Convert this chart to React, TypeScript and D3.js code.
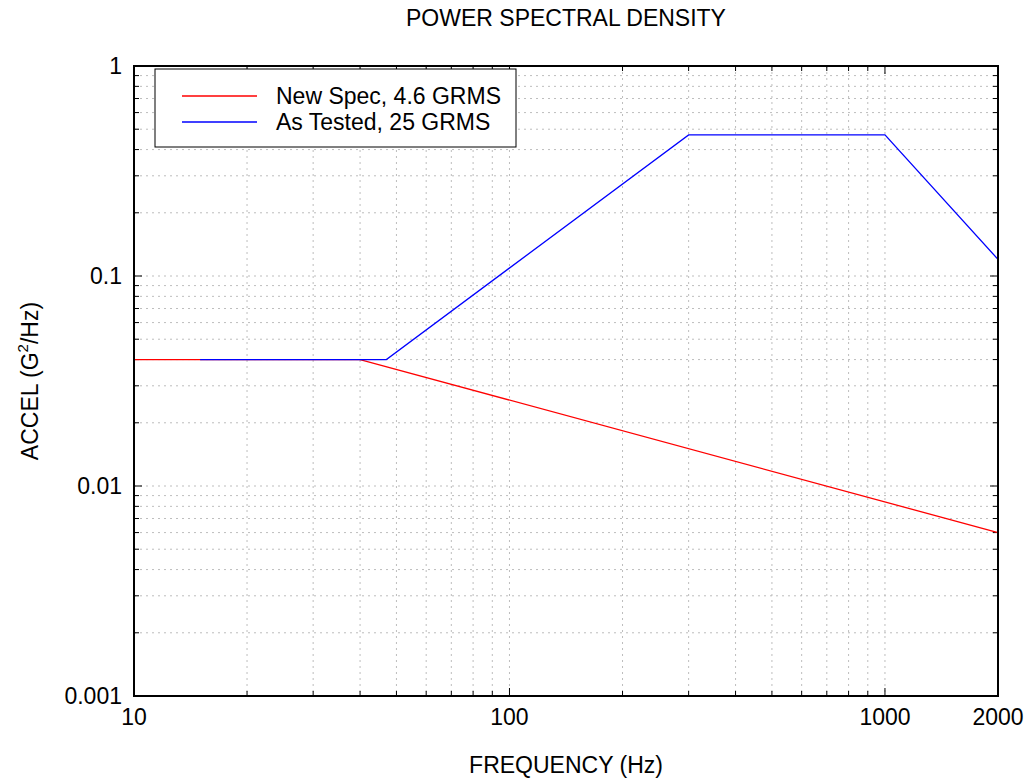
import { useRef, useEffect } from "react";
import * as d3 from "d3";

const specFreq = [10, 40, 2000];
const specPsd = [0.04, 0.04, 0.006];
const testFreq = [15, 47, 300, 1000, 2000];
const testPsd = [0.04, 0.04, 0.47, 0.47, 0.12];
const xTickLabels = [10, 100, 1000, 2000];
const yTickLabels = [0.001, 0.01, 0.1, 1];
const legendNames = ["New Spec, 4.6 GRMS", "As Tested, 25 GRMS"];
const legendColors = ["#ff0000", "#0000ff"];

const W = 1029;
const H = 782;
const M = { left: 134, top: 66, right: 998, bottom: 696 };
const FONT = "Liberation Sans, Arial, sans-serif";
const FS = 23;

export default function App() {
  const svgRef = useRef<SVGSVGElement>(null);

  useEffect(() => {
    if (!svgRef.current) return;
    const svg = d3.select(svgRef.current);
    svg.selectAll("*").remove();

    const x = d3.scaleLog().domain([10, 2000]).range([M.left, M.right]);
    const y = d3.scaleLog().domain([0.001, 1]).range([M.bottom, M.top]);

    // minor + major positions
    const xGrid: number[] = [];
    for (let dec = 10; dec < 2000; dec *= 10)
      for (let k = 1; k < 10; k++) {
        const v = dec * k;
        if (v > 10 && v < 2000) xGrid.push(v);
      }
    const yGrid: number[] = [];
    for (let dec = 0.001; dec < 1; dec *= 10)
      for (let k = 1; k < 10; k++) {
        const v = dec * k;
        if (v > 0.0011 && v < 0.99) yGrid.push(v);
      }

    const g = svg.append("g");

    g.selectAll(".gx")
      .data(xGrid)
      .join("line")
      .attr("x1", (d) => x(d)).attr("x2", (d) => x(d))
      .attr("y1", M.top).attr("y2", M.bottom)
      .attr("stroke", "#bdbdbd").attr("stroke-dasharray", "2,4");
    g.selectAll(".gy")
      .data(yGrid)
      .join("line")
      .attr("y1", (d) => y(d)).attr("y2", (d) => y(d))
      .attr("x1", M.left).attr("x2", M.right)
      .attr("stroke", "#bdbdbd").attr("stroke-dasharray", "2,4");

    // inward ticks on all four sides
    const isMajor = (v: number) => Math.abs(Math.log10(v) - Math.round(Math.log10(v))) < 1e-6;
    xGrid.forEach((v) => {
      const len = isMajor(v) ? 8 : 5;
      g.append("line").attr("x1", x(v)).attr("x2", x(v)).attr("y1", M.bottom).attr("y2", M.bottom - len).attr("stroke", "#000");
      g.append("line").attr("x1", x(v)).attr("x2", x(v)).attr("y1", M.top).attr("y2", M.top + len).attr("stroke", "#000");
    });
    yGrid.forEach((v) => {
      const len = isMajor(v) ? 8 : 5;
      g.append("line").attr("y1", y(v)).attr("y2", y(v)).attr("x1", M.left).attr("x2", M.left + len).attr("stroke", "#000");
      g.append("line").attr("y1", y(v)).attr("y2", y(v)).attr("x1", M.right).attr("x2", M.right - len).attr("stroke", "#000");
    });

    const line = d3.line<[number, number]>().x((d) => x(d[0])).y((d) => y(d[1]));
    g.append("path")
      .attr("d", line(specFreq.map((f, i) => [f, specPsd[i]]))!)
      .attr("fill", "none").attr("stroke", legendColors[0]).attr("stroke-width", 1.3);
    g.append("path")
      .attr("d", line(testFreq.map((f, i) => [f, testPsd[i]]))!)
      .attr("fill", "none").attr("stroke", legendColors[1]).attr("stroke-width", 1.3);

    // frame
    g.append("rect")
      .attr("x", M.left).attr("y", M.top)
      .attr("width", M.right - M.left).attr("height", M.bottom - M.top)
      .attr("fill", "none").attr("stroke", "#000").attr("stroke-width", 2);

    // tick labels
    g.selectAll(".xl")
      .data(xTickLabels)
      .join("text")
      .attr("x", (d) => x(d)).attr("y", M.bottom + 29)
      .attr("text-anchor", "middle")
      .attr("font-family", FONT).attr("font-size", FS)
      .text((d) => String(d));
    g.selectAll(".yl")
      .data(yTickLabels)
      .join("text")
      .attr("x", M.left - 12).attr("y", (d) => y(d) + 8)
      .attr("text-anchor", "end")
      .attr("font-family", FONT).attr("font-size", FS)
      .text((d) => String(d));

    // titles
    g.append("text")
      .attr("x", (M.left + M.right) / 2).attr("y", 26)
      .attr("text-anchor", "middle")
      .attr("font-family", FONT).attr("font-size", FS)
      .text("POWER SPECTRAL DENSITY");
    g.append("text")
      .attr("x", (M.left + M.right) / 2).attr("y", 773)
      .attr("text-anchor", "middle")
      .attr("font-family", FONT).attr("font-size", FS)
      .text("FREQUENCY (Hz)");
    const yl = g.append("text")
      .attr("transform", `translate(38, ${(M.top + M.bottom) / 2}) rotate(-90)`)
      .attr("text-anchor", "middle")
      .attr("font-family", FONT).attr("font-size", FS);
    yl.append("tspan").text("ACCEL (G");
    yl.append("tspan").attr("font-size", 15).attr("dy", -10).text("2");
    yl.append("tspan").attr("dy", 10).text("/Hz)");

    // legend
    const lg = g.append("g");
    lg.append("rect")
      .attr("x", 155).attr("y", 69).attr("width", 361).attr("height", 78)
      .attr("fill", "#fff").attr("stroke", "#000").attr("stroke-width", 1);
    legendNames.forEach((name, i) => {
      const ly = 96 + i * 26;
      lg.append("line")
        .attr("x1", 182).attr("x2", 257).attr("y1", ly).attr("y2", ly)
        .attr("stroke", legendColors[i]).attr("stroke-width", 1.3);
      lg.append("text")
        .attr("x", 276).attr("y", ly + 8)
        .attr("font-family", FONT).attr("font-size", FS)
        .text(name);
    });
  }, []);

  return (
    <svg
      ref={svgRef}
      width={W}
      height={H}
      style={{ position: "absolute", left: 0, top: 0, background: "#fff" }}
    />
  );
}
